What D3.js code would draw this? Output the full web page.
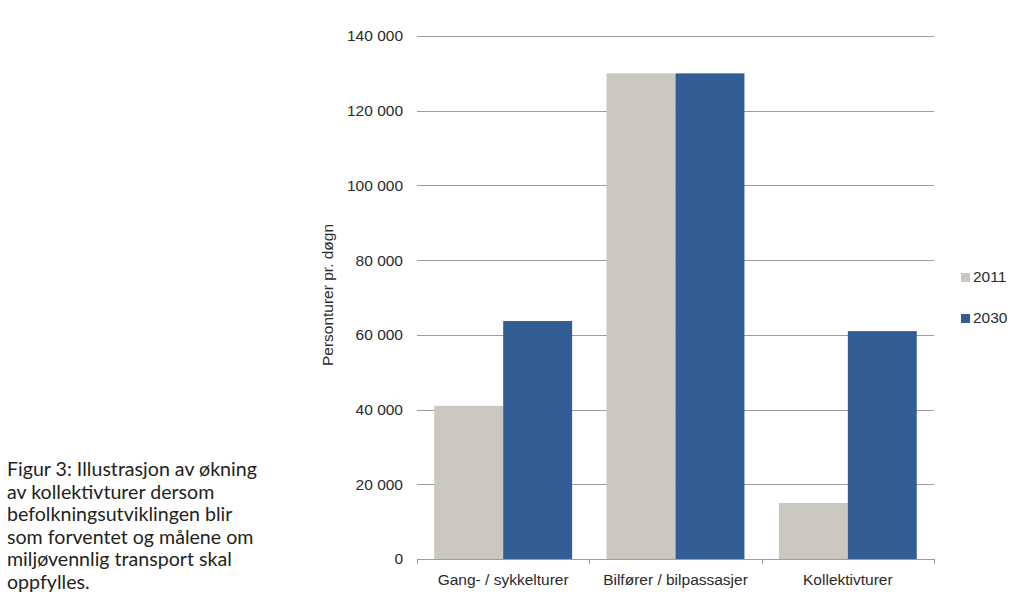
<!DOCTYPE html>
<html>
<head>
<meta charset="utf-8">
<script src="https://cdn.jsdelivr.net/npm/d3@7"></script>
<style>
  body { margin: 0; background: #fff; }
  svg text { font-family: "Liberation Sans", Arial, sans-serif; }
</style>
</head>
<body>
<svg id="chart" width="1024" height="607"></svg>
<script>
// chart data
const categories = ["Gang- / sykkelturer", "Bilfører / bilpassasjer", "Kollektivturer"];
const years = ["2011", "2030"];
const values2011 = [41000, 130000, 15000];
const values2030 = [63700, 130000, 61000];
const yTicks = [0, 20000, 40000, 60000, 80000, 100000, 120000, 140000];
const yLabel = "Personturer pr. døgn";
const caption = [
  "Figur 3: Illustrasjon av økning",
  "av kollektivturer dersom",
  "befolkningsutviklingen blir",
  "som forventet og målene om",
  "miljøvennlig transport skal",
  "oppfylles."
];

const colors = { "2011": "#cac6c0", "2030": "#335d95" };

const svg = d3.select("#chart");

// plot area
const plotLeft = 417, plotRight = 934, plotTop = 36, plotBottom = 559;

const x0 = d3.scaleBand().domain(categories).range([plotLeft, plotRight]).padding(0);
const x1 = d3.scaleBand().domain(years).range([0, x0.bandwidth()]).paddingInner(0).paddingOuter(0.25);
const y = d3.scaleLinear().domain([0, 140000]).range([plotBottom, plotTop]);

const fmt = v => d3.format(",")(v).replace(/,/g, " ");

// gridlines
svg.append("g")
  .selectAll("line")
  .data(yTicks.filter(d => d > 0))
  .join("line")
  .attr("x1", plotLeft).attr("x2", plotRight)
  .attr("y1", d => Math.round(y(d)) + 0.5).attr("y2", d => Math.round(y(d)) + 0.5)
  .attr("stroke", "#9d9d9d").attr("stroke-width", 1);

// y tick labels
svg.append("g")
  .selectAll("text")
  .data(yTicks)
  .join("text")
  .attr("x", 403)
  .attr("y", d => y(d))
  .attr("dy", "0.35em")
  .attr("text-anchor", "end")
  .attr("font-size", 15.5)
  .attr("fill", "#2a2a2a")
  .text(fmt);

// y label
svg.append("text")
  .attr("transform", "translate(333,295) rotate(-90)")
  .attr("text-anchor", "middle")
  .attr("font-size", 15.5)
  .attr("fill", "#2a2a2a")
  .text(yLabel);

// bars
const rows = categories.map((c, i) => ({ cat: c, vals: [
  { year: "2011", value: values2011[i] },
  { year: "2030", value: values2030[i] }
]}));

svg.append("g")
  .selectAll("g")
  .data(rows)
  .join("g")
  .attr("transform", d => `translate(${x0(d.cat)},0)`)
  .selectAll("rect")
  .data(d => d.vals)
  .join("rect")
  .attr("x", d => x1(d.year))
  .attr("width", x1.bandwidth())
  .attr("y", d => y(d.value))
  .attr("height", d => y(0) - y(d.value))
  .attr("fill", d => colors[d.year]);

// x axis
const xAxis = svg.append("g");
xAxis.append("line")
  .attr("x1", plotLeft).attr("x2", plotRight)
  .attr("y1", plotBottom + 0.5).attr("y2", plotBottom + 0.5)
  .attr("stroke", "#9d9d9d");
xAxis.selectAll("line.tick")
  .data(d3.range(categories.length + 1))
  .join("line")
  .attr("class", "tick")
  .attr("x1", i => Math.round(plotLeft + i * x0.step()) + 0.5)
  .attr("x2", i => Math.round(plotLeft + i * x0.step()) + 0.5)
  .attr("y1", plotBottom).attr("y2", plotBottom + 5)
  .attr("stroke", "#9d9d9d");
xAxis.selectAll("text")
  .data(categories)
  .join("text")
  .attr("x", d => x0(d) + x0.bandwidth() / 2)
  .attr("y", 585)
  .attr("text-anchor", "middle")
  .attr("font-size", 15.5)
  .attr("fill", "#2a2a2a")
  .text(d => d);

// legend
const legend = svg.append("g")
  .selectAll("g")
  .data(years)
  .join("g")
  .attr("transform", (d, i) => `translate(961,${277 + i * 41})`);
legend.append("rect")
  .attr("x", 0).attr("y", -4)
  .attr("width", 9).attr("height", 9)
  .attr("fill", d => colors[d]);
legend.append("text")
  .attr("x", 12)
  .attr("dy", "0.35em")
  .attr("font-size", 15.5)
  .attr("fill", "#2a2a2a")
  .text(d => d);

// caption
svg.append("g")
  .selectAll("text")
  .data(caption)
  .join("text")
  .attr("x", 7)
  .attr("y", (d, i) => 476 + i * 22.6)
  .attr("font-size", 19.6)
  .attr("fill", "#231f20")
  .style("font-family", "Lato, 'Open Sans', sans-serif")
  .text(d => d);
</script>
</body>
</html>
